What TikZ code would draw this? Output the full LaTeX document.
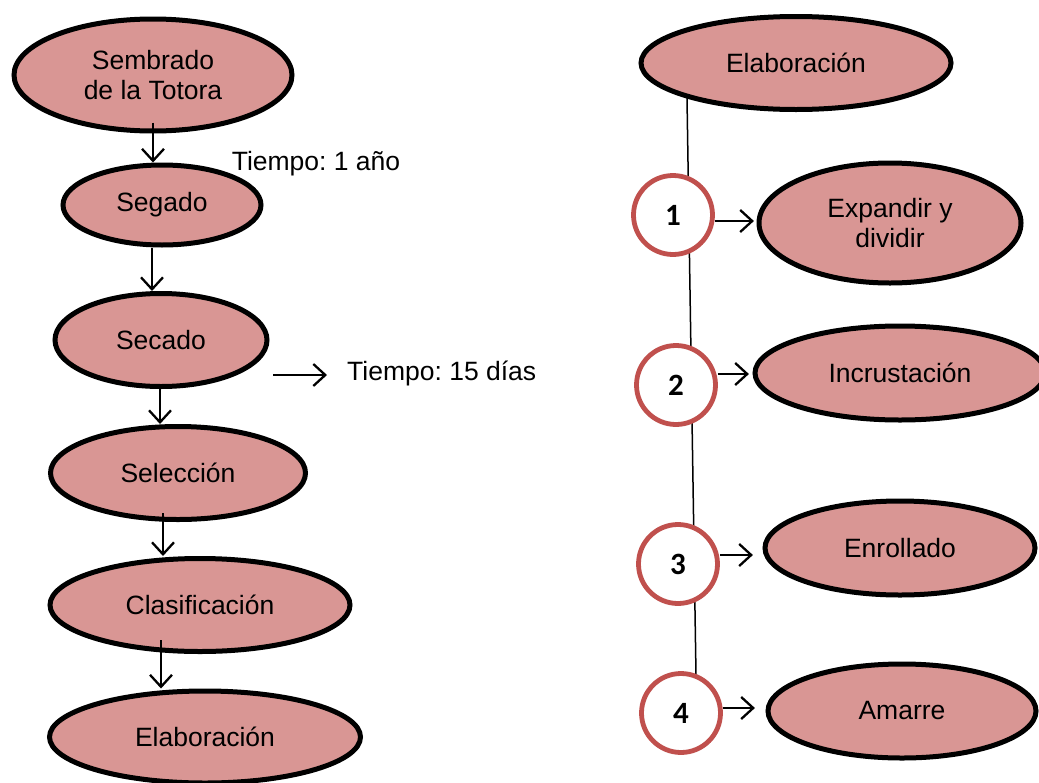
\documentclass[tikz,border=0pt]{standalone}
\usepackage{fontspec}
\setmainfont{Liberation Sans}
\newfontfamily\numfont{Carlito}
\usetikzlibrary{shapes.geometric,arrows.meta,calc}
\definecolor{pinkfill}{RGB}{217,150,148}
\definecolor{redring}{RGB}{192,80,77}
\frenchspacing
\begin{document}
\begin{tikzpicture}[x=1pt,y=-1pt,
  stepnode/.style={ellipse,draw=black,line width=5pt,fill=pinkfill,inner sep=0pt,
    align=center,font=\fontsize{26.5}{30}\selectfont},
  numnode/.style={circle,draw=redring,line width=4.8pt,fill=white,inner sep=0pt,
    minimum size=79pt,font=\numfont\bfseries\fontsize{31}{34}\selectfont},
  plain/.style={font=\fontsize{26.5}{30}\selectfont,inner sep=0pt},
  arr/.style={line width=2.3pt,-{Straight Barb[length=12pt,width=22pt,line width=2.3pt]}},
  thinline/.style={line width=1.5pt}]
\useasboundingbox (0,0) rectangle (1039,782);

% right spine line (behind circles)
\coordinate (ltop) at (687,98);
\coordinate (lbot) at (696,675);
\draw[thinline] (ltop) -- (lbot);

% left column
\node[stepnode,minimum width=278pt,minimum height=112pt] (s1) at (153,75) {Sembrado\\de la Totora};
\node[stepnode,minimum width=198pt,minimum height=80pt] (s2) at (162,205) {Segado};
\node[stepnode,minimum width=212pt,minimum height=93pt] (s3) at (161,340) {Secado};
\node[stepnode,minimum width=255pt,minimum height=93pt] (s4) at (178,473) {Selección};
\node[stepnode,minimum width=300pt,minimum height=93pt] (s5) at (200,605) {Clasificación};
\node[stepnode,minimum width=311pt,minimum height=92pt] (s6) at (205,737) {Elaboración};

\node[plain] (t1) at (316,164) {Tiempo: 1 año};
\node[plain,anchor=west] (t2) at (347,373) {Tiempo: 15 días};

\path (s1.south) ++(0,-11) coordinate (a1);
\path (s2.south) ++(-10,0) coordinate (a2);
\path (s3.south) ++(-1,-4) coordinate (a3);
\path (s4.south) ++(-15,-9) coordinate (a4);
\path (s5.south) ++(-39,-14) coordinate (a5);
\draw[arr] (a1) -- (a1 |- s2.north);
\draw[arr] (a2) -- (a2 |- s3.north);
\draw[arr] (a3) -- (a3 |- s4.north);
\draw[arr] (a4) -- (a4 |- s5.north);
\draw[arr] (a5) -- (a5 |- s6.north);
\path (t2.west) ++(-74,2) coordinate (h1);
\path (t2.west) ++(-20,2) coordinate (h2);
\draw[arr] (h1) -- (h2);

% right column
\node[stepnode,minimum width=310pt,minimum height=93pt] (r0) at (796,63) {Elaboración};
\node[numnode] (c1) at (673,215) {1};
\node[numnode] (c2) at (676,385) {2};
\node[numnode] (c3) at (678,564) {3};
\node[numnode] (c4) at (681,713) {4};

\node[stepnode,minimum width=262pt,minimum height=120pt] (e1) at (890,223) {Expandir y\\dividir};
\node[stepnode,minimum width=290pt,minimum height=94pt] (e2) at (900,373) {Incrustación};
\node[stepnode,minimum width=270pt,minimum height=94pt] (e3) at (900,548) {Enrollado};
\node[stepnode,minimum width=268pt,minimum height=94pt] (e4) at (902,711) {Amarre};

\path (c1.east) ++(0,6) coordinate (b1);
\path (c2.east) ++(0,-11) coordinate (b2);
\path (c3.east) ++(0,-9) coordinate (b3);
\path (c4.east) ++(0,-5) coordinate (b4);
\draw[arr] (b1) -- ++(39,0);
\draw[arr] (b2) -- ++(31,0);
\draw[arr] (b3) -- ++(33,0);
\draw[arr] (b4) -- ++(32,0);
\end{tikzpicture}
\end{document}
